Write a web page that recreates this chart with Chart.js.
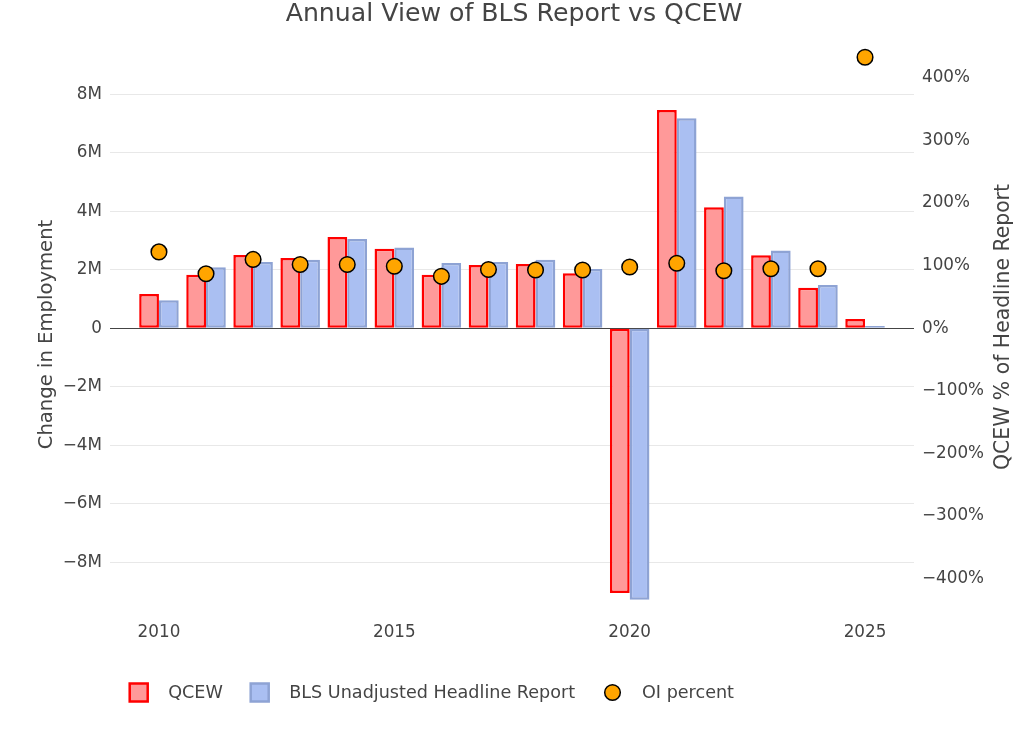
<!DOCTYPE html>
<html><head><meta charset="utf-8">
<script src="https://cdn.jsdelivr.net/npm/chart.js@4.4.1/dist/chart.umd.min.js"></script>
<style>html,body{margin:0;padding:0;background:#fff}#wrap{width:1024px;height:731px}</style>
</head><body><div id="wrap"><canvas id="c" width="1024" height="731"></canvas></div>
<script>
const years = [2010,2011,2012,2013,2014,2015,2016,2017,2018,2019,2020,2021,2022,2023,2024,2025];
const qcewMillions = [1.17,1.83,2.51,2.40,3.12,2.72,1.83,2.16,2.20,1.88,-9.05,7.46,4.14,2.50,1.39,0.32];
const blsMillions  = [0.96,2.09,2.27,2.34,3.05,2.76,2.23,2.27,2.34,2.03,-9.28,7.18,4.51,2.66,1.48,0.075];
const oiPercent    = [122,87,110,102,102,99,83,94,93,93,98,104,92,95,95,433];
const leftTicks  = [-8e6,-6e6,-4e6,-2e6,0,2e6,4e6,6e6,8e6];
const rightTicks = [-400,-300,-200,-100,0,100,200,300,400];
const xTicks = [2010,2015,2020,2025];
const seriesNames = ['QCEW','BLS Unadjusted Headline Report','OI percent'];
const chartTitle = 'Annual View of BLS Report vs QCEW';
const leftAxisTitle = 'Change in Employment';
const rightAxisTitle = 'QCEW % of Headline Report';

const FONT = '"DejaVu Sans", Verdana, sans-serif';
const TXT = '#444';
const MINUS = '\u2212';
const legendCenters = [138.7, 259.7, 612.5];

const qcewPts = years.map((y,i)=>({x:y, y:qcewMillions[i]*1e6}));
const blsPts  = years.map((y,i)=>({x:y, y:blsMillions[i]*1e6}));
const oiPts   = years.map((y,i)=>({x:y, y:oiPercent[i]}));

const decor = {
  id:'decor',
  afterDraw(chart){
    const ctx = chart.ctx, ca = chart.chartArea;
    ctx.save();
    ctx.fillStyle = TXT;
    ctx.textAlign = 'center';
    ctx.textBaseline = 'middle';
    ctx.font = '25.2px ' + FONT;
    ctx.fillText(chartTitle, chart.width/2 + 2, 14);
    ctx.font = '19.6px ' + FONT;
    ctx.save(); ctx.translate(47, 334.5); ctx.rotate(-Math.PI/2); ctx.fillText(leftAxisTitle, 0, 0); ctx.restore();
    ctx.font = '20.4px ' + FONT;
    ctx.save(); ctx.translate(1004, 327); ctx.rotate(-Math.PI/2); ctx.fillText(rightAxisTitle, 0, 0); ctx.restore();
    // legend
    ctx.font = '17.6px ' + FONT;
    ctx.textAlign = 'left';
    const cy = 692.5;
    chart.data.datasets.forEach((ds, i) => {
      const cx = legendCenters[i];
      if (ds.type === 'line') {
        ctx.beginPath(); ctx.arc(cx, cy, 7.8, 0, Math.PI*2);
        ctx.fillStyle = ds.pointBackgroundColor; ctx.fill();
        ctx.lineWidth = 1.5; ctx.strokeStyle = ds.pointBorderColor; ctx.stroke();
      } else {
        ctx.fillStyle = ds.backgroundColor; ctx.fillRect(cx-9, cy-9, 18, 18);
        ctx.lineWidth = 2.5; ctx.strokeStyle = ds.borderColor; ctx.strokeRect(cx-9, cy-9, 18, 18);
      }
      ctx.fillStyle = TXT;
      ctx.fillText(ds.label, cx + 29.5, cy + 1);
    });
    ctx.restore();
  }
};

new Chart(document.getElementById('c'), {
  type:'bar',
  data:{
    datasets:[
      {label:seriesNames[0], data:qcewPts, backgroundColor:'#ff9999', borderColor:'#ff0000', borderWidth:2.5, borderSkipped:false, yAxisID:'y', order:1},
      {label:seriesNames[1], data:blsPts, backgroundColor:'#aabff2', borderColor:'#8ea3d4', borderWidth:2.5, borderSkipped:false, yAxisID:'y', order:1},
      {label:seriesNames[2], type:'line', data:oiPts, showLine:false, pointRadius:7.8, pointHoverRadius:7.8,
       pointBackgroundColor:'#ffa500', pointBorderColor:'#000000', pointBorderWidth:1.5, yAxisID:'y2', order:0, clip:false}
    ]
  },
  options:{
    responsive:false, animation:false, devicePixelRatio:1,
    layout:{padding:{top:43.4,left:0,right:0,bottom:0}},
    categoryPercentage:0.84, barPercentage:1.0,
    plugins:{legend:{display:false}, title:{display:false}, tooltip:{enabled:false}},
    scales:{
      x:{type:'linear', min:2008.96, max:2026.04, offset:false,
         grid:{display:false, drawTicks:false}, border:{display:false},
         afterBuildTicks:(s)=>{s.ticks = xTicks.map(v=>({value:v}));},
         afterFit:(s)=>{s.height = 731 - 613.2;},
         ticks:{padding:9, color:TXT, font:{family:FONT, size:16.8}, callback:(v)=>String(v), autoSkip:false, maxRotation:0}},
      y:{type:'linear', position:'left', min:-9.74e6, max:9.74e6,
         grid:{color:(c)=> (c.tick && c.tick.value===0) ? '#444444' : '#e8e8e8', lineWidth:1, drawTicks:false},
         border:{display:false},
         afterBuildTicks:(s)=>{s.ticks = leftTicks.map(v=>({value:v}));},
         afterFit:(s)=>{s.width = 110;},
         ticks:{padding:8, color:TXT, font:{family:FONT, size:16.8},
           callback:(v)=> v===0 ? '0' : (v<0?MINUS:'') + Math.abs(v/1e6) + 'M'}},
      y2:{type:'linear', position:'right', min:-455, max:455,
         grid:{display:false, drawTicks:false}, border:{display:false},
         afterBuildTicks:(s)=>{s.ticks = rightTicks.map(v=>({value:v}));},
         afterFit:(s)=>{s.width = 110;},
         ticks:{padding:8, color:TXT, font:{family:FONT, size:16.8},
           callback:(v)=> (v<0?MINUS:'') + Math.abs(v) + '%'}}
    }
  },
  plugins:[decor]
});
</script></body></html>
